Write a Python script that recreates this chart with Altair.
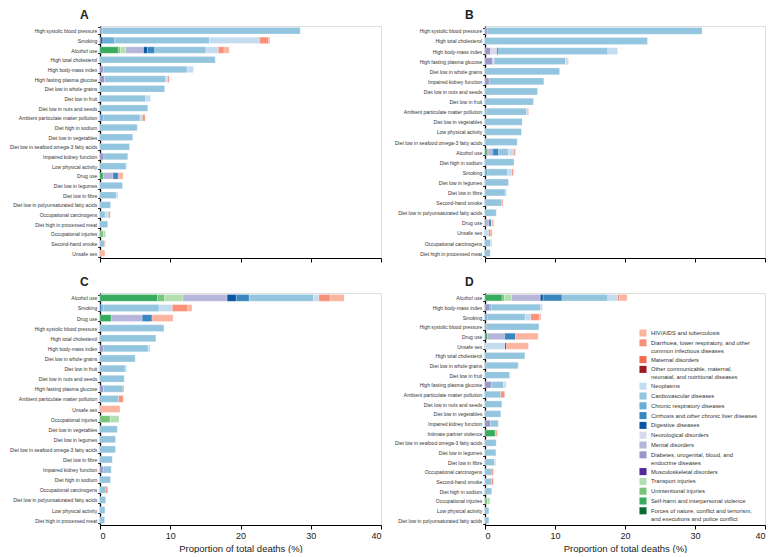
import altair as alt
import pandas as pd

FONT = "Liberation Sans, Arial, sans-serif"

# Cause groups in legend order (label text, '|' = line break)
CAUSE_CODES = ["HIV", "DIA", "MAT", "OTH", "NEO", "CVD", "CRD", "CIR", "DIG",
               "NEU", "MEN", "DIAB", "MSK", "TRA", "UNI", "SH", "FOR"]
CAUSE_LABELS = [
    "HIV/AIDS and tuberculosis",
    "Diarrhoea, lower respiratory, and other|common infectious diseases",
    "Maternal disorders",
    "Other communicable, maternal,|neonatal, and nutritional diseases",
    "Neoplasms",
    "Cardiovascular diseases",
    "Chronic respiratory diseases",
    "Cirrhosis and other chronic liver diseases",
    "Digestive diseases",
    "Neurological disorders",
    "Mental disorders",
    "Diabetes, urogenital, blood, and|endocrine diseases",
    "Musculoskeletal disorders",
    "Transport injuries",
    "Unintentional injuries",
    "Self-harm and interpersonal violence",
    "Forces of nature, conflict and terrorism,|and executions and police conflict",
]
CAUSE_COLORS = ["#fbb4a0", "#f8917a", "#f26b4f", "#9b1b1e", "#c3dcef", "#93c5df",
                "#6aaed6", "#3a86c0", "#0b56a2", "#d9d9eb", "#b6b6da", "#9a96c8",
                "#54279a", "#b3dfb0", "#78c57a", "#37ab5e", "#0c6b35"]

PANEL_A = [
    ("High systolic blood pressure", {"DIAB": 0.3, "CVD": 28.2}),
    ("Smoking", {"DIAB": 0.1, "DIG": 0.3, "CRD": 1.7, "CVD": 13.5, "NEO": 7.1, "DIA": 1.3, "HIV": 0.2}),
    ("Alcohol use", {"SH": 2.6, "UNI": 0.3, "TRA": 0.75, "MEN": 2.55, "DIG": 0.55, "CIR": 1.05,
                     "CVD": 7.3, "NEO": 1.75, "DIA": 0.8, "HIV": 0.75}),
    ("High total cholesterol", {"CVD": 16.4}),
    ("High body-mass index", {"DIAB": 0.5, "CVD": 11.9, "NEO": 0.9}),
    ("High fasting plasma glucose", {"DIAB": 0.65, "CVD": 8.7, "NEO": 0.3, "DIA": 0.2}),
    ("Diet low in whole grains", {"CVD": 9.2}),
    ("Diet low in fruit", {"CVD": 6.5, "NEO": 0.7}),
    ("Diet low in nuts and seeds", {"CVD": 6.8}),
    ("Ambient particulate matter pollution", {"CRD": 0.45, "CVD": 5.25, "NEO": 0.35, "DIA": 0.37}),
    ("Diet high in sodium", {"CVD": 5.3}),
    ("Diet low in vegetables", {"CVD": 4.65}),
    ("Diet low in seafood omega-3 fatty acids", {"CVD": 4.2}),
    ("Impaired kidney function", {"DIAB": 0.55, "CVD": 3.4}),
    ("Low physical activity", {"CVD": 3.7, "NEO": 0.1}),
    ("Drug use", {"SH": 0.45, "MEN": 1.4, "CIR": 0.75, "HIV": 0.7}),
    ("Diet low in legumes", {"CVD": 3.2}),
    ("Diet low in fibre", {"CVD": 2.3, "NEO": 0.25}),
    ("Diet low in polyunsaturated fatty acids", {"CVD": 1.5}),
    ("Occupational carcinogens", {"CVD": 0.75, "NEO": 0.5, "DIA": 0.2}),
    ("Diet high in processed meat", {"CVD": 1.1}),
    ("Occupational injuries", {"UNI": 0.45, "TRA": 0.35}),
    ("Second-hand smoke", {"CVD": 0.65, "DIA": 0.1}),
    ("Unsafe sex", {"HIV": 0.7}),
]

PANEL_B = [
    ("High systolic blood pressure", {"DIAB": 0.3, "CVD": 30.7}),
    ("High total cholesterol", {"CVD": 23.2}),
    ("High body-mass index", {"DIAB": 0.8, "NEU": 0.9, "DIG": 0.15, "CVD": 15.7, "NEO": 1.4}),
    ("High fasting plasma glucose", {"DIAB": 1.1, "NEU": 0.2, "CVD": 10.2, "NEO": 0.3, "DIA": 0.1}),
    ("Diet low in whole grains", {"DIAB": 0.15, "CVD": 10.5}),
    ("Impaired kidney function", {"DIAB": 0.6, "CVD": 7.8}),
    ("Diet low in nuts and seeds", {"CVD": 7.5}),
    ("Diet low in fruit", {"CVD": 6.9, "NEO": 0.1}),
    ("Ambient particulate matter pollution", {"CRD": 0.2, "CVD": 5.75, "NEO": 0.1, "DIA": 0.15}),
    ("Diet low in vegetables", {"CVD": 5.3}),
    ("Low physical activity", {"CVD": 5.2}),
    ("Diet low in seafood omega-3 fatty acids", {"CVD": 4.6}),
    ("Alcohol use", {"SH": 0.3, "UNI": 0.15, "MEN": 0.6, "DIG": 0.1, "CIR": 0.8, "CVD": 1.4,
                     "NEO": 0.8, "DIA": 0.2}),
    ("Diet high in sodium", {"CVD": 4.15}),
    ("Smoking", {"CRD": 0.4, "CVD": 2.85, "NEO": 0.6, "DIA": 0.2}),
    ("Diet low in legumes", {"CVD": 3.35}),
    ("Diet low in fibre", {"CVD": 2.9, "NEO": 0.2}),
    ("Second-hand smoke", {"CRD": 0.15, "CVD": 2.2, "DIA": 0.2}),
    ("Diet low in polyunsaturated fatty acids", {"CVD": 1.6}),
    ("Drug use", {"SH": 0.1, "MEN": 0.45, "CIR": 0.35, "NEO": 0.1, "HIV": 0.25}),
    ("Unsafe sex", {"NEO": 0.6, "OTH": 0.1, "HIV": 0.35}),
    ("Occupational carcinogens", {"CVD": 0.8, "NEO": 0.2}),
    ("Diet high in processed meat", {"CVD": 0.75}),
]

PANEL_C = [
    ("Alcohol use", {"SH": 8.2, "UNI": 1.0, "TRA": 2.6, "MEN": 6.3, "DIG": 1.3, "CIR": 1.85,
                     "CVD": 9.15, "NEO": 0.75, "DIA": 1.6, "HIV": 2.0}),
    ("Smoking", {"DIG": 0.15, "CRD": 0.3, "CVD": 7.95, "NEO": 1.9, "DIA": 2.2, "HIV": 0.6}),
    ("Drug use", {"SH": 1.6, "MEN": 4.4, "CIR": 1.4, "HIV": 3.0}),
    ("High systolic blood pressure", {"CVD": 9.1}),
    ("High total cholesterol", {"CVD": 7.95}),
    ("High body-mass index", {"DIAB": 0.45, "CVD": 6.4, "NEO": 0.3}),
    ("Diet low in whole grains", {"CVD": 5.0}),
    ("Diet low in fruit", {"CVD": 3.6, "NEO": 0.2}),
    ("Diet low in nuts and seeds", {"CVD": 3.45}),
    ("High fasting plasma glucose", {"DIAB": 0.5, "CVD": 2.75, "DIA": 0.15}),
    ("Ambient particulate matter pollution", {"CVD": 2.65, "DIA": 0.65}),
    ("Unsafe sex", {"HIV": 2.85}),
    ("Occupational injuries", {"UNI": 1.45, "TRA": 1.25}),
    ("Diet low in vegetables", {"CVD": 2.45}),
    ("Diet low in legumes", {"CVD": 2.2}),
    ("Diet low in seafood omega-3 fatty acids", {"CVD": 2.2}),
    ("Diet low in fibre", {"CVD": 1.75}),
    ("Impaired kidney function", {"DIAB": 0.45, "CVD": 1.15}),
    ("Diet high in sodium", {"CVD": 1.5}),
    ("Occupational carcinogens", {"CVD": 0.85, "DIA": 0.25}),
    ("Diet low in polyunsaturated fatty acids", {"CVD": 0.8}),
    ("Low physical activity", {"CVD": 0.7}),
    ("Diet high in processed meat", {"CVD": 0.65}),
]

PANEL_D = [
    ("Alcohol use", {"SH": 2.45, "UNI": 0.35, "TRA": 1.0, "MEN": 4.1, "DIG": 0.4, "CIR": 2.7,
                     "CVD": 6.55, "NEO": 1.4, "DIA": 0.3, "HIV": 1.05}),
    ("High body-mass index", {"DIAB": 0.7, "CRD": 0.2, "CVD": 7.0, "NEO": 0.3}),
    ("Smoking", {"CRD": 0.3, "CVD": 5.45, "NEO": 0.8, "DIA": 1.2, "HIV": 0.25}),
    ("High systolic blood pressure", {"DIAB": 0.2, "CVD": 7.5}),
    ("Drug use", {"SH": 0.35, "MEN": 2.45, "CIR": 1.55, "HIV": 3.25}),
    ("Unsafe sex", {"NEO": 2.85, "OTH": 0.2, "HIV": 3.15}),
    ("High total cholesterol", {"CVD": 5.7}),
    ("Diet low in whole grains", {"DIAB": 0.15, "CVD": 4.6}),
    ("Diet low in fruit", {"CVD": 3.5, "NEO": 0.15}),
    ("High fasting plasma glucose", {"DIAB": 0.9, "CVD": 1.75, "NEO": 0.2, "DIA": 0.1}),
    ("Ambient particulate matter pollution", {"CVD": 2.25, "DIA": 0.55}),
    ("Diet low in nuts and seeds", {"CVD": 2.4}),
    ("Diet low in vegetables", {"CVD": 2.25}),
    ("Impaired kidney function", {"DIAB": 0.8, "CVD": 1.1}),
    ("Intimate partner violence", {"SH": 1.45, "HIV": 0.35}),
    ("Diet low in seafood omega-3 fatty acids", {"CVD": 1.6}),
    ("Diet low in legumes", {"CVD": 1.55}),
    ("Diet low in fibre", {"CVD": 1.35, "NEO": 0.2}),
    ("Occupational carcinogens", {"CVD": 1.0, "DIA": 0.2}),
    ("Second-hand smoke", {"CVD": 0.95, "DIA": 0.25}),
    ("Diet high in sodium", {"CVD": 0.95}),
    ("Occupational injuries", {"UNI": 0.35, "TRA": 0.35}),
    ("Low physical activity", {"CVD": 0.55}),
    ("Diet low in polyunsaturated fatty acids", {"CVD": 0.55}),
]

X_TICKS = [0, 10, 20, 30, 40]
X_TITLE = "Proportion of total deaths (%)"

label_of = dict(zip(CAUSE_CODES, CAUSE_LABELS))
n_causes = len(CAUSE_CODES)

PLOT_H = 232
EXT = 91


def make_panel(rows, letter, bottom, width):
    recs = []
    risks = [r for r, _ in rows]
    for risk, segs in rows:
        for code, val in segs.items():
            idx = CAUSE_CODES.index(code)
            recs.append({"risk": risk, "cause": label_of[code], "value": val,
                         "order": n_causes - 1 - idx})
    df = pd.DataFrame(recs)
    if bottom:
        xaxis = alt.Axis(values=X_TICKS, title=X_TITLE, grid=False, labels=True,
                         domainColor="black", tickColor="black", tickSize=4,
                         labelFontSize=9, labelColor="#222", labelFont=FONT,
                         titleFont=FONT, titleFontSize=9.5, titleFontWeight="normal",
                         titleColor="#222", titlePadding=3, labelPadding=2)
    else:
        xaxis = alt.Axis(values=X_TICKS, title=None, grid=False, labels=False,
                         domainColor="black", tickColor="black", tickSize=4)
    chart = alt.Chart(df).mark_bar(stroke="white", strokeWidth=0.4, strokeOpacity=0.6).encode(
        x=alt.X("value:Q", stack="zero",
                scale=alt.Scale(domain=[0, 40], nice=False), axis=xaxis),
        y=alt.Y("risk:N", sort=risks,
                scale=alt.Scale(paddingInner=0.33, paddingOuter=0.15),
                axis=alt.Axis(title=None, tickBand="extent", minExtent=EXT,
                              maxExtent=EXT, labelLimit=EXT - 3,
                              labelFont=FONT, labelFontSize=5.0, labelColor="#333",
                              domainColor="black", domainWidth=1.3,
                              tickColor="black", tickSize=2.5, tickWidth=0.8,
                              labelPadding=0.8)),
        color=alt.Color("cause:N",
                        scale=alt.Scale(domain=CAUSE_LABELS, range=CAUSE_COLORS),
                        legend=alt.Legend(orient="none", legendX=539, legendY=303,
                                          title=None, symbolType="square",
                                          symbolSize=50, symbolStrokeWidth=0,
                                          labelFont=FONT, labelFontSize=5.8,
                                          labelColor="#333", labelLimit=300,
                                          labelExpr="split(datum.label, '|')",
                                          rowPadding=1.8, symbolOffset=0,
                                          labelOffset=4)),
        order=alt.Order("order:Q", sort="ascending"),
    ).properties(
        width=width, height=PLOT_H,
        title=alt.TitleParams(letter, anchor="start", frame="group", dx=-20,
                              fontSize=12, fontWeight="bold", font=FONT,
                              color="#222", offset=2),
    )
    return chart


pa = make_panel(PANEL_A, "A", False, 281)
pb = make_panel(PANEL_B, "B", False, 280)
pc = make_panel(PANEL_C, "C", True, 281)
pd_ = make_panel(PANEL_D, "D", True, 280)

chart = alt.concat(pa, pb, pc, pd_, columns=2, spacing={"row": 12, "column": 11}).properties(
    padding={"left": 0, "top": 0, "right": 0, "bottom": 0},
    align="each",
).configure_view(stroke=None).configure(background="white")

chart.save("out.html", embed_options={"renderer": "svg", "actions": False})
